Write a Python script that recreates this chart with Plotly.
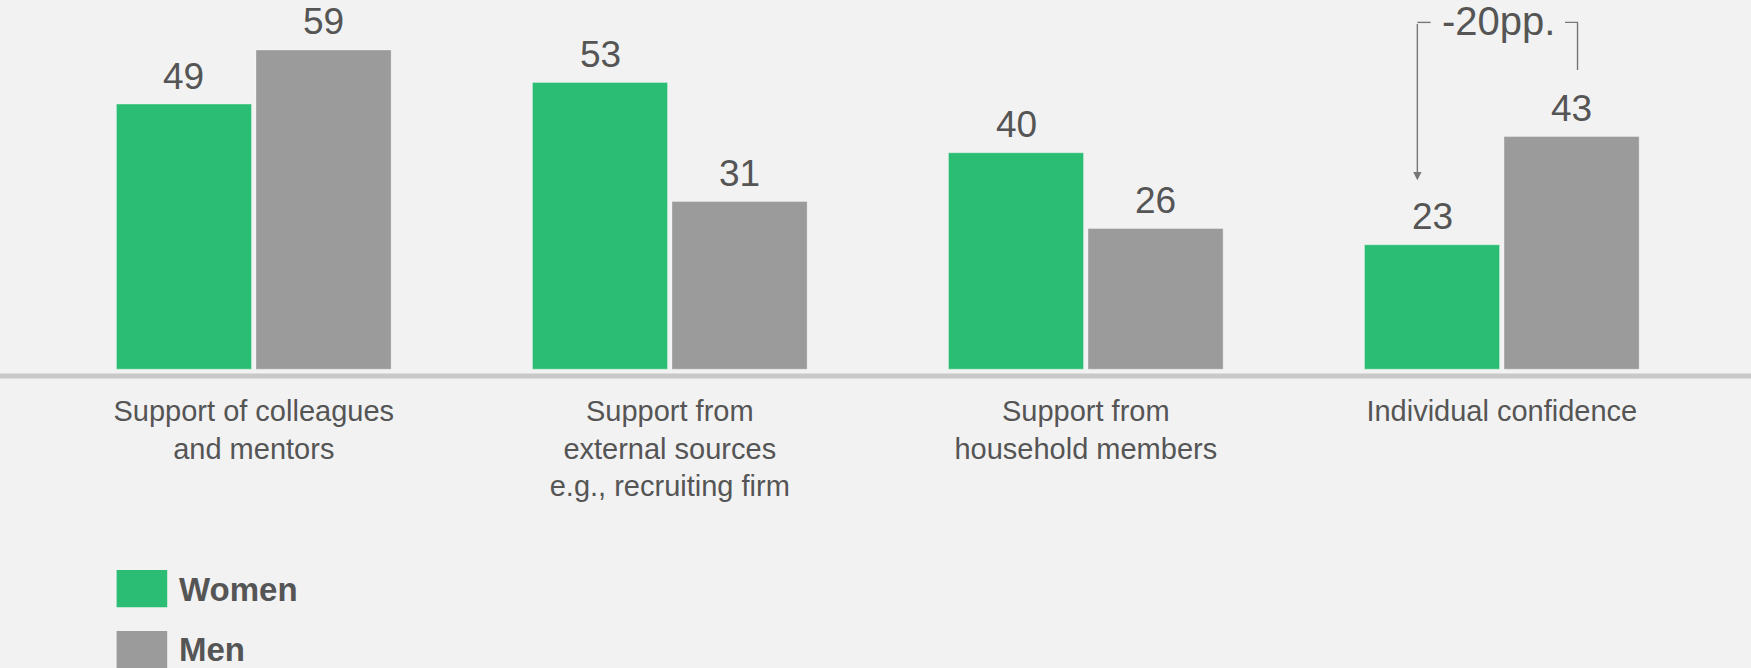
import plotly.graph_objects as go

categories = [
    "Support of colleagues<br>and mentors",
    "Support from<br>external sources<br>e.g., recruiting firm",
    "Support from<br>household members",
    "Individual confidence",
]
women = [49, 53, 40, 23]
men = [59, 31, 26, 43]
series_names = ["Women", "Men"]
gap_label = "-20pp."

GREEN = "#2bbd73"
GRAY = "#9b9b9b"
TEXT = "#555555"
BG = "#f2f2f2"
FONT = "Liberation Sans, Arial, sans-serif"

BARGAP = 0.329
BARGROUPGAP = 0.032
idx = list(range(len(categories)))

fig = go.Figure()
fig.add_trace(go.Bar(x=idx, y=women, name=series_names[0],
                     marker=dict(color=GREEN, line=dict(color="rgba(255,255,255,0.35)", width=1))))
fig.add_trace(go.Bar(x=idx, y=men, name=series_names[1],
                     marker=dict(color=GRAY, line=dict(color="rgba(255,255,255,0.3)", width=1))))

# value labels above the bars
off = (1 - BARGAP) / 4
annotations = []
for i, v in enumerate(women):
    annotations.append(dict(x=i - off, y=v, xref="x", yref="y", text=str(v), showarrow=False,
                            yanchor="bottom", yshift=5.5, font=dict(size=37, color=TEXT, family=FONT)))
for i, v in enumerate(men):
    annotations.append(dict(x=i + off, y=v, xref="x", yref="y", text=str(v), showarrow=False,
                            yanchor="bottom", yshift=5.5, font=dict(size=37, color=TEXT, family=FONT)))

# -20pp. bracket on the last category
k = 3
yb = 64.1
annotations.append(dict(x=k - 0.008, y=64.3, xref="x", yref="y", text=gap_label, showarrow=False,
                        yanchor="middle", font=dict(size=40, color=TEXT, family=FONT)))
annotations.append(dict(x=k - 0.203, y=34.9, ax=k - 0.203, ay=yb, xref="x", yref="y",
                        axref="x", ayref="y", text="", showarrow=True, arrowhead=2,
                        arrowsize=1.2, arrowwidth=1.4, arrowcolor="#777777"))

# legend (manual, large swatches)
legend_y = [-0.5513, -0.7105]
for name, yy in zip(series_names, legend_y):
    annotations.append(dict(x=0.1013, y=yy, xref="paper", yref="paper", text="<b>%s</b>" % name,
                            showarrow=False, xanchor="left", yanchor="middle",
                            font=dict(size=33, color=TEXT, family=FONT)))

shapes = [
    # baseline
    dict(type="line", xref="paper", yref="y", x0=0, x1=1, y0=-1.26, y1=-1.26,
         line=dict(color="#c8c8c8", width=5)),
    # bracket pieces
    dict(type="path", xref="x", yref="y",
         path="M %f,%f L %f,%f" % (k - 0.203, yb, k - 0.171, yb),
         line=dict(color="#777777", width=1.4)),
    dict(type="path", xref="x", yref="y",
         path="M %f,%f L %f,%f L %f,%f" % (k + 0.152, yb, k + 0.182, yb, k + 0.182, 55.3),
         line=dict(color="#777777", width=1.4)),
    # legend swatches
    dict(type="rect", xref="paper", yref="paper", x0=0.0666, x1=0.0955, y0=-0.598, y1=-0.5,
         fillcolor=GREEN, line=dict(width=0)),
    dict(type="rect", xref="paper", yref="paper", x0=0.0666, x1=0.0955, y0=-0.82, y1=-0.6605,
         fillcolor=GRAY, line=dict(width=0)),
]

fig.update_layout(
    width=1751, height=668,
    margin=dict(l=0, r=0, t=0, b=288),
    paper_bgcolor=BG, plot_bgcolor=BG,
    barmode="group", bargap=BARGAP, bargroupgap=BARGROUPGAP,
    showlegend=False,
    annotations=annotations, shapes=shapes,
    xaxis=dict(range=[-0.61, 3.599], tickmode="array", tickvals=idx, ticktext=categories,
               showgrid=False, zeroline=False, showline=False, ticks="",
               ticklabelstandoff=11,
               tickfont=dict(size=29, color=TEXT, family=FONT)),
    yaxis=dict(range=[-2, 68.24], showgrid=False, zeroline=False, showticklabels=False,
               showline=False, ticks=""),
    font=dict(family=FONT, color=TEXT),
)

fig.write_html("out.html")
